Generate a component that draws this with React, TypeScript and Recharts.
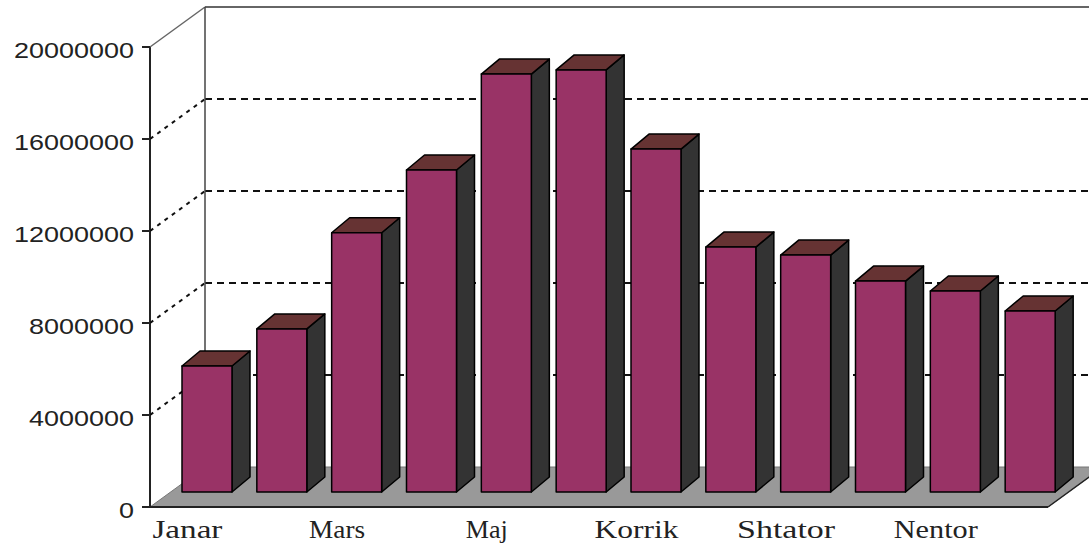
import React from "react";
import { BarChart, Bar, XAxis, YAxis, CartesianGrid } from "recharts";

const MONTHS = ["Janar", "Shkurt", "Mars", "Prill", "Maj", "Qershor",
                "Korrik", "Gusht", "Shtator", "Tetor", "Nentor", "Dhjetor"];
const VALUES = [5480000, 7090000, 11270000, 14000000, 18170000, 18350000,
                14910000, 10650000, 10300000, 9170000, 8740000, 7870000];
const Y_TICKS = [0, 4000000, 8000000, 12000000, 16000000, 20000000];

// layout of the oblique "3D" box
const W = 1089;
const H = 550;
const PLOT_LEFT = 170;
const PLOT_TOP = 32;
const PLOT_BOTTOM = 492;
const FRONT = { dx: -20, dy: 15 };  // front edge of floor, relative to bar plane
const BACK = { dx: 35, dy: -25 };   // back wall, relative to bar plane
const DEPTH = { dx: 18, dy: -15 };  // bar depth

const chartData = MONTHS.map((m, i) => ({ month: m, value: VALUES[i] }));

const Bar3D = (props: any) => {
  const { x, y, width, height } = props;
  if (height == null || width == null) return null;
  const r = x + width;
  const b = y + height;
  const { dx, dy } = DEPTH;
  return (
    <g stroke="#000" strokeWidth={1.5} strokeLinejoin="round">
      <polygon points={`${r},${y} ${r + dx},${y + dy} ${r + dx},${b + dy} ${r},${b}`} fill="#333333" />
      <polygon points={`${x},${y} ${x + dx},${y + dy} ${r + dx},${y + dy} ${r},${y}`} fill="#663333" />
      <rect x={x} y={y} width={width} height={height} fill="#993366" />
    </g>
  );
};

const GridLine = (props: any) => {
  const { x1, x2, y1 } = props;
  const fx = x1 + FRONT.dx;
  const fy = y1 + FRONT.dy;
  const bx = x1 + BACK.dx;
  const by = y1 + BACK.dy;

  if (Math.abs(y1 - PLOT_BOTTOM) < 1) {
    // floor + front vertical axis
    return (
      <g key={props.key}>
        <polygon
          points={`${fx},${fy} ${x2 + FRONT.dx},${fy} ${x2 + BACK.dx},${by} ${bx},${by}`}
          fill="#999999"
          stroke="#777"
          strokeWidth={1}
        />
        <line x1={fx} y1={fy} x2={x2 + FRONT.dx} y2={fy} stroke="#222" strokeWidth={2} />
        <line x1={x2 + FRONT.dx} y1={fy} x2={x2 + BACK.dx} y2={by} stroke="#222" strokeWidth={1.5} />
        <line x1={fx} y1={fy} x2={fx} y2={PLOT_TOP + FRONT.dy} stroke="#222" strokeWidth={2} />
      </g>
    );
  }
  if (Math.abs(y1 - PLOT_TOP) < 1) {
    // top edge of side wall, back wall frame
    return (
      <g key={props.key} stroke="#666" strokeWidth={1.5}>
        <line x1={fx} y1={fy} x2={bx} y2={by} />
        <line x1={bx} y1={by} x2={W + 20} y2={by} strokeWidth={2} />
        <line x1={bx} y1={by} x2={bx} y2={PLOT_BOTTOM + BACK.dy} stroke="#444" />
      </g>
    );
  }
  return (
    <g key={props.key} stroke="#111" strokeWidth={2}>
      <line x1={fx} y1={fy} x2={bx} y2={by} strokeDasharray="4 5" />
      <line x1={bx} y1={by} x2={W + 20} y2={by} strokeDasharray="7 5" />
    </g>
  );
};

const YTick = (props: any) => {
  const { y, payload } = props;
  const fx = PLOT_LEFT + FRONT.dx;
  const fy = y + FRONT.dy;
  const label = String(payload.value);
  return (
    <g>
      <line x1={fx - 8} y1={fy} x2={fx} y2={fy} stroke="#222" strokeWidth={2} />
      <text
        x={fx - 16}
        y={fy + 11}
        textAnchor="end"
        fontFamily="'Liberation Sans', Arial, sans-serif"
        fontSize={22}
        fill="#222"
        textLength={label.length * 15}
        lengthAdjust="spacingAndGlyphs"
      >
        {label}
      </text>
    </g>
  );
};

const XTick = (props: any) => {
  const { x, payload } = props;
  const label = String(payload.value);
  return (
    <text
      x={x + FRONT.dx}
      y={538}
      textAnchor="middle"
      fontFamily="'Liberation Serif', 'Times New Roman', serif"
      fontSize={25}
      fill="#222"
      textLength={label.length * 14}
      lengthAdjust="spacingAndGlyphs"
    >
      {label}
    </text>
  );
};

export default function App() {
  return (
    <div style={{ position: "absolute", left: 0, top: 0, width: W, height: H, background: "#fff" }}>
      <BarChart
        width={W}
        height={H}
        data={chartData}
        margin={{ top: PLOT_TOP, right: 21, bottom: 0, left: PLOT_LEFT - 2 }}
      >
        <CartesianGrid vertical={false} horizontal={GridLine} />
        <XAxis
          dataKey="month"
          height={H - PLOT_BOTTOM}
          interval={1}
          axisLine={false}
          tickLine={false}
          tick={XTick}
        />
        <YAxis
          width={2}
          domain={[0, 20000000]}
          ticks={Y_TICKS}
          interval={0}
          axisLine={false}
          tickLine={false}
          tick={YTick}
        />
        <Bar dataKey="value" barSize={50} shape={Bar3D} isAnimationActive={false} />
      </BarChart>
    </div>
  );
}
